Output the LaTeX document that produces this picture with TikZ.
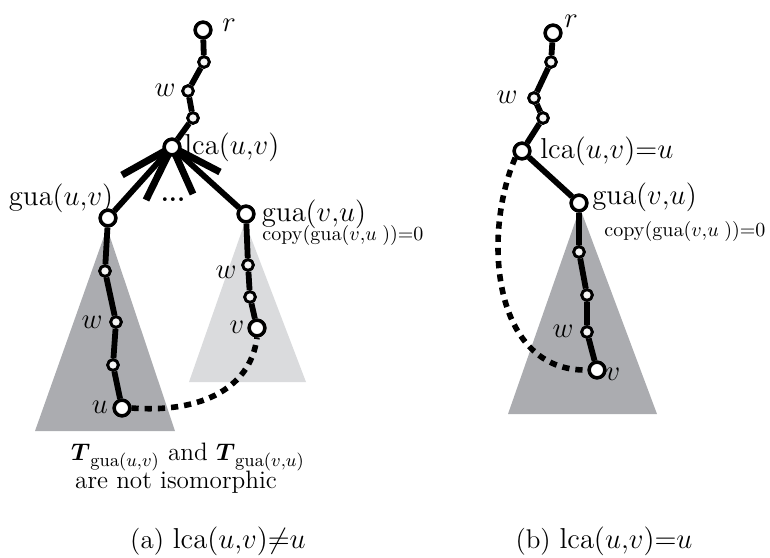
\documentclass[tikz,border=0pt]{standalone}
\usepackage{amsmath}
\begin{document}
\begin{tikzpicture}[x=0.5pt,y=-0.5pt,
  bignode/.style={circle,draw=black,fill=white,line width=1.7pt,minimum size=7.8pt,inner sep=0pt},
  smallnode/.style={circle,draw=black,fill=gray!8,line width=1.4pt,minimum size=5.3pt,inner sep=0pt},
  edge/.style={line width=2.9pt},
  stub/.style={line width=3.5pt},
  dots/.style={line width=2.8pt,dash pattern=on 3.6pt off 3pt},
  lbl/.style={inner sep=0pt,font=\fontsize{13.5}{15}\selectfont},
  small/.style={inner sep=0pt,font=\fontsize{10}{12}\selectfont},
  captext/.style={inner sep=0pt,font=\fontsize{13.5}{16}\selectfont},
  notetext/.style={inner sep=0pt,font=\fontsize{12.6}{15}\selectfont}]
\useasboundingbox (0,0) rectangle (770,557);
\definecolor{darktri}{HTML}{ABACB0}
\definecolor{lighttri}{HTML}{DADBDD}
% ---------- panel (a) ----------
\fill[darktri] (107,228) -- (35,431) -- (175,431) -- cycle;
\fill[lighttri] (245,222) -- (189,382) -- (306,382) -- cycle;

\node[bignode] (ar) at (203,30) {};
\node[smallnode] (a1) at (204,62) {};
\node[smallnode] (aw) at (188,91) {};
\node[smallnode] (a3) at (193,118) {};
\node[bignode] (alca) at (172,147) {};
\coordinate (s1) at (122,175);
\coordinate (s2) at (146,200);
\coordinate (s3) at (193,194);
\coordinate (s4) at (220,172);
\node[bignode] (agl) at (108,218) {};
\node[bignode] (agr) at (246,214) {};
\node[smallnode] (al1) at (105,271) {};
\node[smallnode] (alw) at (116,322) {};
\node[smallnode] (al3) at (113,365) {};
\node[bignode] (au) at (122,408) {};
\node[smallnode] (arw) at (248,265) {};
\node[smallnode] (ar2) at (250,297) {};
\node[bignode] (av) at (257,328) {};

\draw[edge] (ar) -- (a1) -- (aw) -- (a3) -- (alca);
\draw[stub] (alca.center) -- (s1);
\draw[stub] (alca.center) -- (s2);
\draw[stub] (alca.center) -- (s3);
\draw[stub] (alca.center) -- (s4);
\draw[edge] (alca) -- (agl);
\draw[edge] (alca) -- (agr);
\draw[edge] (agl) -- (al1) -- (alw) -- (al3) -- (au);
\draw[edge] (agr) -- (arw) -- (ar2) -- (av);
\draw[dots] (au.east) .. controls (195,413) and (250,392) .. (av.south);
% redraw nodes on top
\foreach \n in {ar,alca,agl,agr,au,av}{\node[bignode] at (\n) {};}
\foreach \n in {a1,aw,a3,al1,alw,al3,arw,ar2}{\node[smallnode] at (\n) {};}

\node[lbl] (tar) at (229,25) {$r$};
\node[lbl] (taw) at (165,90) {$w$};
\node[lbl,anchor=west] (talca) at (184,147) {$\mathrm{lca}(u{,}v)$};
\node[lbl] (tagl) at (61,198) {$\mathrm{gua}(u{,}v)$};
\node[inner sep=0pt,font=\bfseries\fontsize{13}{15}\selectfont] (adots) at (173,200) {...};
\node[lbl] (tagr) at (314,214) {$\mathrm{gua}(v{,}u)$};
\node[small] (tacopy) at (343,235) {$\mathrm{copy}(\mathrm{gua}(v{,}u\;))\mathord{=}0$};
\node[lbl] (tarw) at (226,272) {$w$};
\node[lbl] (tav) at (237,327) {$v$};
\node[lbl] (talw) at (92,322) {$w$};
\node[lbl] (tau) at (100,407) {$u$};
\node[notetext] (tT) at (188,457) {$\boldsymbol{T}_{\mathrm{gua}(u{,}v)}$ and $\boldsymbol{T}_{\mathrm{gua}(v{,}u)}$};
\node[notetext] (tiso) at (176,482) {are not isomorphic};
\node[captext] (capa) at (218,541) {(a) $\mathrm{lca}(u{,}v)\mathord{\neq} u$};

% ---------- panel (b) ----------
\fill[darktri] (580,208) -- (508,414) -- (657,414) -- cycle;
\node[bignode] (br) at (553,33) {};
\node[smallnode] (b1) at (551,62) {};
\node[smallnode] (bw) at (534,98) {};
\node[smallnode] (b3) at (543,118) {};
\node[bignode] (blca) at (522,151) {};
\node[bignode] (bg) at (579,203) {};
\node[smallnode] (bg1) at (579,252) {};
\node[smallnode] (bg2) at (587,295) {};
\node[smallnode] (bgw) at (587,332) {};
\node[bignode] (bv) at (597,370) {};
\draw[edge] (br) -- (b1) -- (bw) -- (b3) -- (blca) -- (bg) -- (bg1) -- (bg2) -- (bgw) -- (bv);
\draw[dots] (blca.south west) .. controls (482,235) and (492,372) .. (bv.west);
\foreach \n in {br,blca,bg,bv}{\node[bignode] at (\n) {};}
\foreach \n in {b1,bw,b3,bg1,bg2,bgw}{\node[smallnode] at (\n) {};}

\node[lbl] (tbr) at (571,21) {$r$};
\node[lbl] (tbw) at (507,97) {$w$};
\node[lbl,anchor=west] (tblca) at (540,151) {$\mathrm{lca}(u{,}v)\mathord{=}u$};
\node[lbl,anchor=west] (tbg) at (592,197) {$\mathrm{gua}(v{,}u)$};
\node[small,anchor=west] (tbcopy) at (604,231) {$\mathrm{copy}(\mathrm{gua}(v{,}u\;))\mathord{=}0$};
\node[lbl] (tbw2) at (563,331) {$w$};
\node[lbl] (tbv) at (613,374) {$v$};
\node[captext] (capb) at (604,541) {(b) $\mathrm{lca}(u{,}v)\mathord{=}u$};
\end{tikzpicture}
\end{document}
